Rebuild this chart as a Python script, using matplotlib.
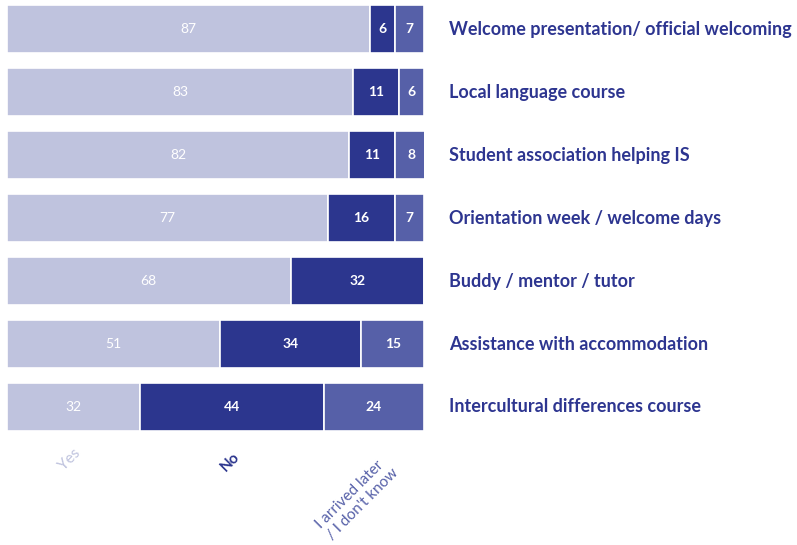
import matplotlib
matplotlib.use("Agg")
import matplotlib.pyplot as plt
import numpy as np

plt.rcParams['font.family'] = ['Lato', 'DejaVu Sans']

categories = [
    "Welcome presentation/ official welcoming",
    "Local language course",
    "Student association helping IS",
    "Orientation week / welcome days",
    "Buddy / mentor / tutor",
    "Assistance with accommodation",
    "Intercultural differences course",
]
yes_vals = [87, 83, 82, 77, 68, 51, 32]
no_vals = [6, 11, 11, 16, 32, 34, 44]
other_vals = [7, 6, 8, 7, 0, 15, 24]
series_names = ["Yes", "No", "I arrived later\n/ I don't know"]
colors = ["#bfc3de", "#2c368e", "#5660a8"]
label_color = "#2d3590"

W, H = 797, 545
fig = plt.figure(figsize=(W / 100, H / 100), dpi=100)
ax = fig.add_axes([7 / W, 1 - 438.5 / H, 417 / W, 441 / H])

y = np.arange(len(categories))
left = np.zeros(len(categories))
for vals, col, name in zip([yes_vals, no_vals, other_vals], colors, series_names):
    v = np.array(vals, dtype=float)
    ax.barh(y, v, left=left, height=0.76, color=col, edgecolor="white", linewidth=1.2)
    for yi, (l, val) in enumerate(zip(left, v)):
        if val > 0:
            ax.text(l + val / 2, yi, f"{int(val)}", ha="center", va="center",
                    color="white", fontsize=10,
                    fontweight="normal" if name == "Yes" else "bold")
    left += v

for yi, cat in enumerate(categories):
    ax.text(106, yi, cat, ha="left", va="center", color=label_color,
            fontsize=13, fontweight="bold")

ax.set_xlim(0, 100)
ax.set_ylim(len(categories) - 0.5, -0.5)
ax.axis("off")

# rotated series labels below
leg_x = [15, 53.5, 84]
leg_y = [6.84, 6.87, 7.45]
for name, col, lx, ly in zip(series_names, colors, leg_x, leg_y):
    ax.text(lx, ly, name, rotation=45, ha="center", va="center", color=col,
            fontsize=11, fontweight="bold" if name == "No" else "normal",
            multialignment="left", clip_on=False, linespacing=1.1,
            rotation_mode="anchor")

fig.savefig("out.png", dpi=100)
